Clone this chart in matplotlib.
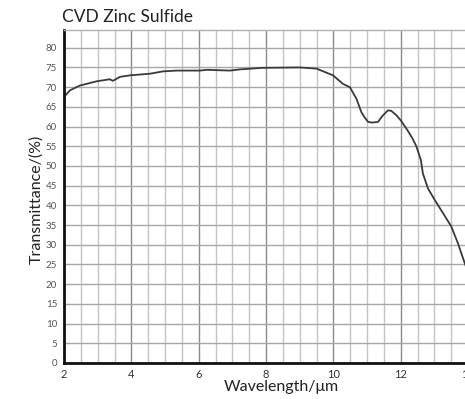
import numpy as np
import matplotlib.pyplot as plt
from matplotlib.ticker import MultipleLocator

# transmittance curve
wavelength = [2.0, 2.18, 2.47, 2.98, 3.36, 3.45, 3.66, 3.96, 4.55, 4.94, 5.35,
              6.04, 6.24, 6.93, 7.22, 7.9, 9.0, 9.5, 9.99, 10.29, 10.49, 10.69,
              10.83, 10.93, 11.03, 11.15, 11.33, 11.45, 11.62, 11.72, 11.87,
              12.0, 12.2, 12.35, 12.47, 12.6, 12.66, 12.81, 13.01, 13.26, 13.5,
              13.7, 13.9, 14.0]
transmittance = [67.5, 69.2, 70.4, 71.5, 72.0, 71.6, 72.6, 73.0, 73.4, 74.0, 74.2,
                 74.2, 74.4, 74.2, 74.5, 74.9, 75.0, 74.7, 73.0, 70.8, 70.0, 67.0,
                 63.7, 62.3, 61.2, 61.0, 61.2, 62.6, 64.1, 64.0, 62.9,
                 61.6, 59.1, 57.0, 54.9, 51.5, 48.1, 44.3, 41.4, 38.0, 34.7,
                 30.4, 25.4, 23.0]

x_ticks = [2, 4, 6, 8, 10, 12, 14]
y_ticks = list(range(0, 85, 5))

plt.rcParams['font.family'] = ['Lato', 'DejaVu Sans']

fig = plt.figure(figsize=(4.65, 3.99), dpi=100)
ax = fig.add_axes([64 / 465, 36 / 399, 404 / 465, 333 / 399])

ax.set_xlim(2, 14)
ax.set_ylim(0, 84.5)

# grid: fine every 0.5 um, darker every 2 um, horizontal every 5 %
ax.xaxis.set_minor_locator(MultipleLocator(0.5))
ax.set_xticks(x_ticks)
ax.set_yticks(y_ticks)
ax.grid(which='minor', axis='x', color='#c4c4c4', lw=1.0)
ax.grid(which='major', axis='x', color='#8a8a8a', lw=1.0)
ax.grid(which='major', axis='y', color='#a8a8a8', lw=1.0)
ax.set_axisbelow(True)

ax.plot(wavelength, transmittance, color='#3a3a3a', lw=1.3)

for s in ['left', 'bottom']:
    ax.spines[s].set_linewidth(2.0)
    ax.spines[s].set_color('#111111')
ax.spines['top'].set_color('#b0b0b0')
ax.spines['top'].set_linewidth(1.0)
ax.spines['right'].set_visible(False)

ax.tick_params(which='both', length=0)
ax.tick_params(axis='y', labelsize=7, labelcolor='#555555', pad=5)
ax.tick_params(axis='x', labelsize=8, labelcolor='#333333', pad=4)

ax.set_xlabel('Wavelength/μm', fontsize=11.5, color='#222222')
ax.xaxis.set_label_coords(0.537, -0.052)
ax.set_ylabel('Transmittance/(%)', fontsize=11.5, color='#222222')
ax.yaxis.set_label_coords(-0.05, 0.49)

fig.text(62 / 465, 1 - 17 / 399, 'CVD Zinc Sulfide', fontsize=12.5,
         color='#222222', ha='left', va='center')

fig.savefig('out.png', dpi=100)
